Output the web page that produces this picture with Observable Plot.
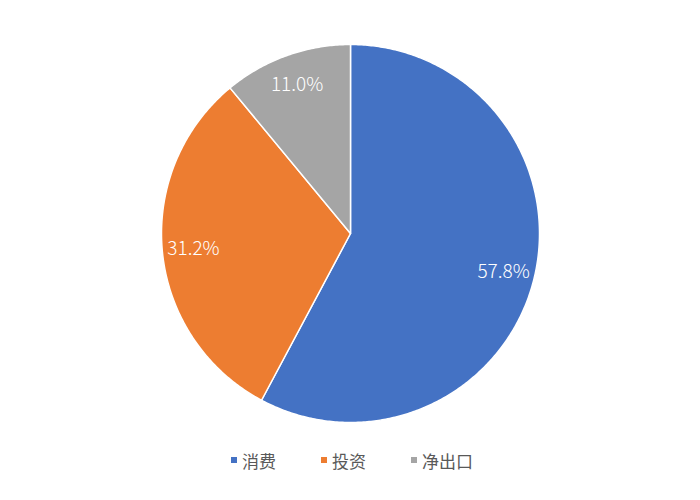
<!DOCTYPE html>
<html><head><meta charset="utf-8">
<script src="https://cdn.jsdelivr.net/npm/d3@7"></script>
<script src="https://cdn.jsdelivr.net/npm/@observablehq/plot@0.6"></script>
<style>
body{margin:0;background:#fff;font-family:"Noto Sans CJK SC","Noto Sans",sans-serif;}
#chart svg{display:block}
.legend{display:flex;justify-content:center;gap:45px;font-size:17px;color:#595959;line-height:20px;margin-top:6px;padding-left:4px}
.item{display:flex;align-items:center;gap:5px}
.sw{width:6px;height:6px;margin-top:-3px}
</style></head><body><div id="chart"></div><div class="legend" id="legend"></div><script>
const categories = ["消费", "投资", "净出口"];
const shares = [57.8, 31.2, 11.0];
const labels = ["57.8%", "31.2%", "11.0%"];
const colors = ["#4472C4", "#ED7D31", "#A5A5A5"];

const arcs = d3.pie().sort(null).startAngle(0).endAngle(2 * Math.PI)(shares);
const polys = [];
const textRows = [];
arcs.forEach((a, i) => {
  const cat = categories[i];
  polys.push({cat, x: 0, y: 0});
  const n = Math.max(2, Math.ceil((a.endAngle - a.startAngle) / 0.01));
  for (let k = 0; k <= n; k++) {
    const t = a.startAngle + (a.endAngle - a.startAngle) * k / n;
    polys.push({cat, x: Math.sin(t), y: Math.cos(t)});
  }
  polys.push({cat, x: 0, y: 0});
  const m = (a.startAngle + a.endAngle) / 2;
  textRows.push({cat, label: labels[i], x: 0.835 * Math.sin(m), y: 0.835 * Math.cos(m)});
});

const plot = Plot.plot({
  width: 700, height: 445,
  marginLeft: 161, marginRight: 161, marginTop: 44, marginBottom: 23,
  x: {domain: [-1, 1], axis: null},
  y: {domain: [-1, 1], axis: null},
  color: {domain: categories, range: colors},
  style: {fontFamily: '"Noto Sans CJK SC","Noto Sans",sans-serif', background: "white"},
  marks: [
    Plot.line(polys, {x: "x", y: "y", z: "cat", fill: "cat", stroke: "white", strokeWidth: 1.5, curve: "linear"}),
    Plot.text(textRows, {x: "x", y: "y", text: "label", fill: "white", fontSize: 19, fontWeight: 300})
  ]
});
document.getElementById("chart").append(plot);

const lg = document.getElementById("legend");
categories.forEach((c, i) => {
  const it = document.createElement("div"); it.className = "item";
  const sw = document.createElement("div"); sw.className = "sw"; sw.style.background = colors[i];
  const tx = document.createElement("span"); tx.textContent = c;
  it.append(sw, tx); lg.append(it);
});
</script></body></html>
